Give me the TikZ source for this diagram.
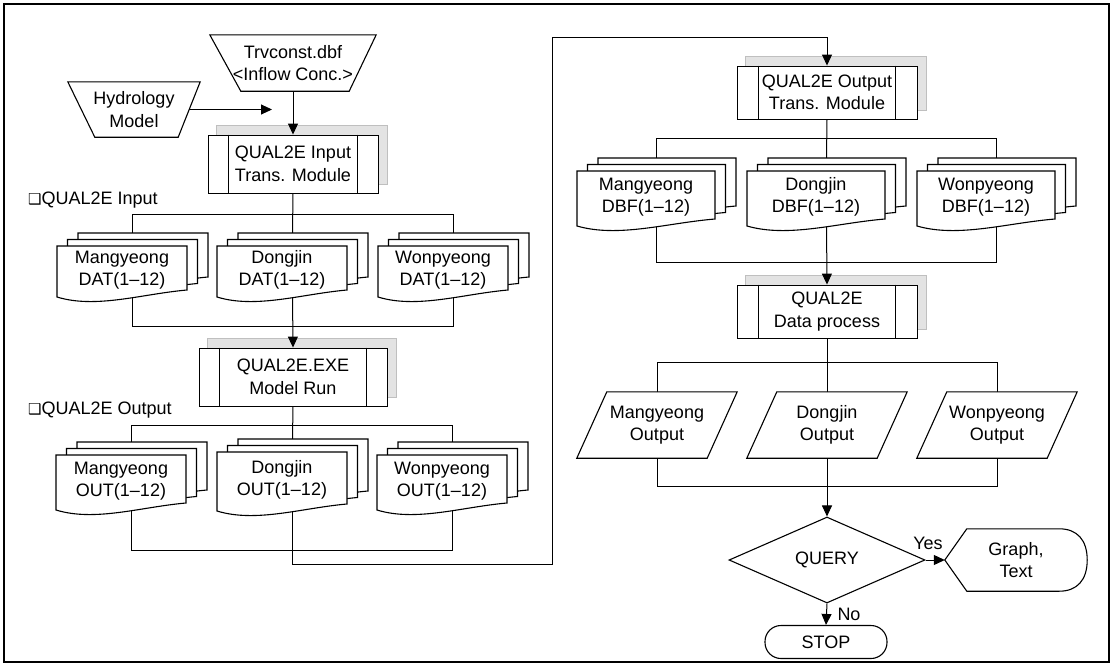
\documentclass[tikz,border=0pt]{standalone}
\usepackage{fontspec}
\setmainfont{Liberation Sans}
\newfontfamily\djv{DejaVu Sans}
\usetikzlibrary{shapes.geometric,arrows.meta,calc}
\pgfdeclarelayer{bg}
\pgfdeclarelayer{mid}
\pgfsetlayers{bg,mid,main}
\newcommand\fs{\fontsize{18}{22.5}\selectfont}
\newcommand\boxmark{{\djv\fontsize{15}{15}\selectfont ❑}}
\tikzset{
  every node/.style={font=\fs, align=center, inner sep=0pt},
  lw/.style={line width=1.1pt},
  shp/.style={lw, draw=black, fill=white},
  conn/.style={line width=1pt},
  arr/.style={conn, -{Triangle[length=11pt,width=10pt]}},
  modst/.style={draw=black, fill=white, line width=0.9pt, rectangle},
  modline/.style={line width=0.9pt},
  region/.style={rectangle, draw=none},
  shadowst/.style={fill=gray!22, draw=gray!50, line width=1.5pt},
}
% document stack: name, left, front top, width, height, line1, line2
\newcommand\docstack[7]{%
  \begin{pgfonlayer}{mid}
  \foreach \k in {2,1,0}{%
    \pgfmathsetmacro\xa{#2+\k*10.5}%
    \pgfmathsetmacro\ya{#3-\k*6.5}%
    \pgfmathsetmacro\xb{\xa+#4}%
    \pgfmathsetmacro\yb{\ya+#5}%
    \draw[shp] (\xa,\ya) -- (\xb,\ya) -- (\xb,{\yb-10}) .. controls ({\xa+0.65*#4},{\yb-6}) and ({\xa+0.3*#4},{\yb+9}) .. (\xa,{\yb-3}) -- cycle;
  }%
  \end{pgfonlayer}
  \node[region, minimum width=#4pt, minimum height=#5pt] (#1) at ({#2+#4/2},{#3+#5/2-3}) {#6\\#7};
  \coordinate (#1-top) at ({#2+(#4+21)/2},{#3-13});
  \coordinate (#1-bot) at ({#2+(#4+21)/2},{#3+#5-6});
}
% predefined process box: name, cx, cy, w, h, inset, text
\newcommand\modbox[7]{%
  \node[modst, minimum width=#4pt, minimum height=#5pt] (#1) at (#2,#3) {#7};
  \draw[modline] ($(#1.north west)+(#6,0)$) -- ($(#1.south west)+(#6,0)$);
  \draw[modline] ($(#1.north east)+(-#6,0)$) -- ($(#1.south east)+(-#6,0)$);
}
% parallelogram: name, cx, cy, text
\newcommand\para[4]{%
  \node[region, minimum width=160pt, minimum height=66pt] (#1) at (#2,#3) {#4};
  \begin{pgfonlayer}{mid}
  \draw[shp] ($(#1.north west)+(30,0)$) -- (#1.north east) -- ($(#1.south east)+(-30,0)$) -- (#1.south west) -- cycle;
  \end{pgfonlayer}
}
\begin{document}
\begin{tikzpicture}[x=1pt,y=-1pt]
\useasboundingbox (0,0) rectangle (1112,664);

% ---------- left column ----------
\node[region, minimum width=166pt, minimum height=56pt] (trv) at (293,63) {Trvconst.dbf\\<Inflow Conc.>};
\node[region, minimum width=132pt, minimum height=55pt] (hyd) at (134,109.5) {Hydrology\\Model};
\begin{pgfonlayer}{mid}
\draw[shp] (trv.north west) -- (trv.north east) -- ($(trv.south east)+(-27,0)$) -- ($(trv.south west)+(31,0)$) -- cycle;
\draw[shp] (hyd.north west) -- (hyd.north east) -- ($(hyd.south east)+(-22,0)$) -- ($(hyd.south west)+(27,0)$) -- cycle;
\end{pgfonlayer}
\coordinate (hydend) at (272,109.5);

\modbox{inmod}{293}{164}{170}{58}{21}{QUAL2E Input\\Trans. Module}
\node[anchor=west] (lblin) at (28,200) {\boxmark QUAL2E Input};

\docstack{mdat}{57}{246}{130}{54}{Mangyeong}{DAT(1--12)}
\docstack{ddat}{217}{246}{130}{54}{Dongjin}{DAT(1--12)}
\docstack{wdat}{378}{246}{130}{54}{Wonpyeong}{DAT(1--12)}

\modbox{exe}{293}{377}{188}{58}{21}{QUAL2E.EXE\\Model Run}
\node[anchor=west] (lblout) at (28,410) {\boxmark QUAL2E Output};

\docstack{mout}{56}{455}{130}{58}{Mangyeong}{OUT(1--12)}
\docstack{dout}{217}{452}{130}{62}{Dongjin}{OUT(1--12)}
\docstack{wout}{377}{455}{130}{58}{Wonpyeong}{OUT(1--12)}

% ---------- right column ----------
\modbox{om}{827}{92.5}{180}{53}{22}{QUAL2E Output\\Trans. Module}
\docstack{mdbf}{577}{171}{138}{58}{Mangyeong}{DBF(1--12)}
\docstack{ddbf}{747}{171}{138}{58}{Dongjin}{DBF(1--12)}
\docstack{wdbf}{917}{171}{138}{58}{Wonpyeong}{DBF(1--12)}
\modbox{dp}{827}{311.5}{180}{53}{22}{QUAL2E\\Data process}

\para{mpo}{657}{425}{Mangyeong\\Output}
\para{dpo}{827}{425}{Dongjin\\Output}
\para{wpo}{997}{425}{Wonpyeong\\Output}

\node[shp, diamond, minimum width=196pt, minimum height=86pt] (q) at (827,560) {QUERY};
\node[region, minimum width=142pt, minimum height=62pt] (gt) at (1016,560) {Graph,\\Text};
\begin{pgfonlayer}{mid}
\draw[shp] (gt.west) -- ($(gt.north west)+(22,0)$) -- ($(gt.north east)+(-28,0)$)
  .. controls ($(gt.north east)+(-10,0)$) and ($(gt.east)+(0,-20)$) .. (gt.east)
  .. controls ($(gt.east)+(0,20)$) and ($(gt.south east)+(-10,0)$) .. ($(gt.south east)+(-28,0)$)
  -- ($(gt.south west)+(22,0)$) -- cycle;
\end{pgfonlayer}
\node[shp, rectangle, rounded corners=16pt, minimum width=122pt, minimum height=33pt] (stop) at (826,642) {STOP};
\node (yes) at (928,543) {Yes};
\node (no) at (849,614) {No};

% ---------- background: frame, shadows, connectors ----------
\begin{pgfonlayer}{bg}
\draw[line width=1.3pt] (4,4) rectangle (1109,662);
\foreach \n in {inmod,exe,om,dp}{
  \filldraw[shadowst] ($(\n.south west)+(9,-9)$) rectangle ($(\n.north east)+(9,-9)$);
}
\draw[arr] ($(hyd.east)+(-11,0)$) -- (hydend);
\draw[arr] (trv.south) -- (inmod.north);

\coordinate (b1) at (0,214);
\coordinate (b2) at (0,326);
\coordinate (b3) at (0,425);
\coordinate (b4) at (0,550);
\draw[conn] (inmod.south) -- (ddat-top);
\draw[conn] (mdat-top) -- (mdat-top |- b1) -- (wdat-top |- b1) -- (wdat-top);
\draw[conn] (mdat-bot) -- (mdat-bot |- b2) -- (wdat-bot |- b2) -- (wdat-bot);
\draw[arr] (ddat-bot) -- (exe.north);
\draw[conn] (exe.south) -- (dout-top);
\draw[conn] (mout-top) -- (mout-top |- b3) -- (wout-top |- b3) -- (wout-top);
\draw[conn] (mout-bot) -- (mout-bot |- b4) -- (wout-bot |- b4) -- (wout-bot);

\coordinate (lp1) at (552,564);
\coordinate (lp2) at (552,37);
\draw[arr] (dout-bot) |- (lp1) -- (lp2) -| (om.north);

\coordinate (b5) at (0,138);
\coordinate (b6) at (0,262);
\coordinate (b7) at (0,362);
\coordinate (b8) at (0,486);
\draw[conn] (om.south) -- (ddbf-top);
\draw[conn] (mdbf-top) -- (mdbf-top |- b5) -- (wdbf-top |- b5) -- (wdbf-top);
\draw[conn] (mdbf-bot) -- (mdbf-bot |- b6) -- (wdbf-bot |- b6) -- (wdbf-bot);
\draw[arr] (ddbf-bot) -- (dp.north);
\draw[conn] (dp.south) -- (dpo.north);
\draw[conn] (mpo.north) -- (mpo.north |- b7) -- (wpo.north |- b7) -- (wpo.north);
\draw[conn] (mpo.south) -- (mpo.south |- b8) -- (wpo.south |- b8) -- (wpo.south);
\draw[arr] (dpo.south) -- (q.north);
\draw[arr] (q.east) -- (gt.west);
\draw[arr] (q.south) -- (stop.north);
\end{pgfonlayer}
\end{tikzpicture}
\end{document}
